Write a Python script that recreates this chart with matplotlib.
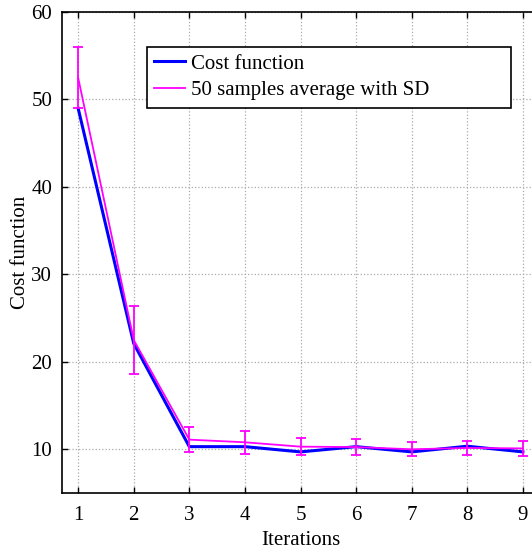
import matplotlib
matplotlib.use("Agg")
import matplotlib.pyplot as plt
from matplotlib.lines import Line2D

# iteration index
iterations = [1, 2, 3, 4, 5, 6, 7, 8, 9]
# cost function of the single run
cost = [49.0, 22.1, 10.3, 10.3, 9.7, 10.3, 9.7, 10.35, 9.7]
# average over 50 samples and its standard deviation
avg = [52.5, 22.5, 11.1, 10.8, 10.3, 10.25, 10.0, 10.15, 10.1]
sd = [3.5, 3.9, 1.45, 1.3, 1.0, 0.95, 0.8, 0.85, 0.82]

plt.rcParams['font.family'] = ['Liberation Serif', 'DejaVu Serif']

fig = plt.figure(figsize=(5.32, 5.53), dpi=100)
W, H = 532, 553
# axes box in pixels: left 62, right 539 (cut by figure edge), top 12, bottom 493
ax = fig.add_axes([62 / W, (H - 493) / H, (539 - 62) / W, (493 - 12) / H])

ax.plot(iterations, cost, color='#0000ff', lw=2.2, label='Cost function', zorder=3)
ax.errorbar(iterations, avg, yerr=sd, color='#ff00ff', lw=1.3, elinewidth=1.3,
            capsize=3.5, capthick=1.3, label='50 samples average with SD', zorder=4)

ax.set_xlim(0.71, 9.29)
ax.set_ylim(5, 60)
ax.set_xticks(iterations)
ax.set_yticks([10, 20, 30, 40, 50, 60])

ax.grid(True, linestyle=':', color='#aaaaaa', lw=0.9)
ax.tick_params(direction='in', top=True, right=True, labelsize=15, length=4, width=1)
ax.tick_params(axis='x', pad=9)
ax.tick_params(axis='y', pad=7)
for s in ax.spines.values():
    s.set_linewidth(1.2)

ax.set_xlabel('Iterations', fontsize=15, labelpad=5)
ax.set_ylabel('Cost function', fontsize=15, labelpad=1)

# legend: plain lines, square black frame stretched to a fixed width
handles = [Line2D([], [], color='#0000ff', lw=2.2),
           Line2D([], [], color='#ff00ff', lw=1.3)]
leg = ax.legend(handles, ['Cost function', '50 samples average with SD'],
                loc='upper left', bbox_to_anchor=(0.178, 0.928, 0.763, 0.0),
                mode='expand', fontsize=15,
                fancybox=False, edgecolor='black', framealpha=1,
                handlelength=1.5, handletextpad=0.25, borderpad=0.35,
                labelspacing=0.35, borderaxespad=0)
leg.get_frame().set_linewidth(1.2)

fig.savefig('out.png', dpi=100)
